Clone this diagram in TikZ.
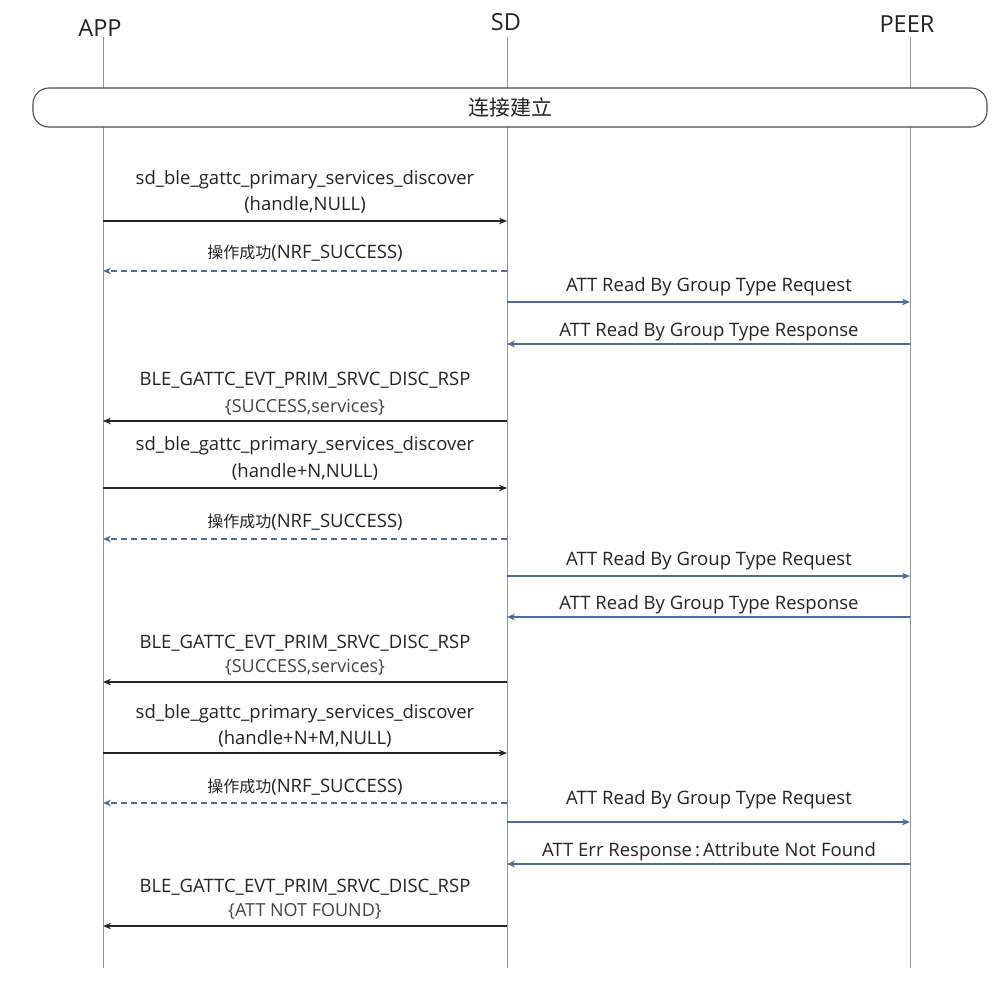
\documentclass[tikz,border=0pt]{standalone}
\usepackage{fontspec}
\setmainfont{Open Sans}
\newfontfamily\cjk{Noto Sans CJK SC}
\usetikzlibrary{arrows.meta}
\definecolor{lifegray}{RGB}{150,150,150}
\definecolor{msgblue}{RGB}{78,108,150}
\definecolor{txt}{RGB}{35,35,35}
\newcommand{\cjkt}[1]{{\cjk\fontsize{16}{19}\selectfont #1}}
\tikzset{
  life/.style={draw=lifegray, line width=0.9pt},
  blk/.style={-{Stealth[length=8pt,width=6.5pt]}, line width=1.2pt, draw=black!85},
  blu/.style={-{Stealth[length=8pt,width=6.5pt]}, line width=1.1pt, draw=msgblue},
  dsh/.style={blu, dash pattern=on 6pt off 4pt},
  lbl/.style={font=\fontsize{18.5}{22}\selectfont, text=txt, inner sep=0pt},
  lbls/.style={font=\fontsize{18}{22}\selectfont, text=txt!85, inner sep=0pt},
  head/.style={font=\fontsize{23.5}{28}\selectfont, text=txt, inner sep=0pt},
}
\begin{document}
\begin{tikzpicture}[x=1pt,y=-1pt]
\useasboundingbox (0,0) rectangle (1007,983);
\fill[white] (0,0) rectangle (1007,983);
% participants
\node[head] (app) at (100,28) {APP};
\node[head] (sd) at (506,22) {SD};
\node[head] (peer) at (907,24) {PEER};
\coordinate (appT) at (103,37);  \coordinate (appB) at (103,968);
\coordinate (sdT) at (507,37);   \coordinate (sdB) at (507,968);
\coordinate (peerT) at (910,37); \coordinate (peerB) at (910,968);
\draw[life] (appT) -- (appB);
\draw[life] (sdT) -- (sdB);
\draw[life] (peerT) -- (peerB);
% connection box
\node[draw=black!70, line width=1.1pt, fill=white, rounded corners=16pt,
      minimum width=954pt, minimum height=39pt, inner sep=0pt,
      font=\cjk\fontsize{21}{24}\selectfont, text=txt] (conn) at (510,107.5) {连接建立};
% ---------- round 1
\node[lbl] (t1a) at (305,180) {sd\_ble\_gattc\_primary\_services\_discover};
\node[lbl] (t1b) at (305,205) {(handle,NULL)};
\coordinate (a1) at (103,221); \coordinate (s1) at (507,221);
\draw[blk] (a1) -- (s1);
\node[lbl] (t2) at (305,253) {\cjkt{操作成功}(NRF\_SUCCESS)};
\coordinate (s2) at (507,271); \coordinate (a2) at (103,271);
\draw[dsh] (s2) -- (a2);
\node[lbl] (t3) at (709,287) {ATT Read By Group Type Request};
\coordinate (s3) at (507,302); \coordinate (p3) at (910,302);
\draw[blu] (s3) -- (p3);
\node[lbl] (t4) at (709,332) {ATT Read By Group Type Response};
\coordinate (p4) at (910,344); \coordinate (s4) at (507,344);
\draw[blu] (p4) -- (s4);
\node[lbl] (t5a) at (305,380) {BLE\_GATTC\_EVT\_PRIM\_SRVC\_DISC\_RSP};
\node[lbls] (t5b) at (305,407) {\{SUCCESS,services\}};
\coordinate (s5) at (507,421); \coordinate (a5) at (103,421);
\draw[blk] (s5) -- (a5);
% ---------- round 2
\node[lbl] (t6a) at (305,446) {sd\_ble\_gattc\_primary\_services\_discover};
\node[lbl] (t6b) at (305,472) {(handle+N,NULL)};
\coordinate (a6) at (103,488); \coordinate (s6) at (507,488);
\draw[blk] (a6) -- (s6);
\node[lbl] (t7) at (305,522) {\cjkt{操作成功}(NRF\_SUCCESS)};
\coordinate (s7) at (507,539); \coordinate (a7) at (103,539);
\draw[dsh] (s7) -- (a7);
\node[lbl] (t8) at (709,561) {ATT Read By Group Type Request};
\coordinate (s8) at (507,576); \coordinate (p8) at (910,576);
\draw[blu] (s8) -- (p8);
\node[lbl] (t9) at (709,605) {ATT Read By Group Type Response};
\coordinate (p9) at (910,617); \coordinate (s9) at (507,617);
\draw[blu] (p9) -- (s9);
\node[lbl] (t10a) at (305,643) {BLE\_GATTC\_EVT\_PRIM\_SRVC\_DISC\_RSP};
\node[lbls] (t10b) at (305,667) {\{SUCCESS,services\}};
\coordinate (s10) at (507,682); \coordinate (a10) at (103,682);
\draw[blk] (s10) -- (a10);
% ---------- round 3
\node[lbl] (t11a) at (305,714) {sd\_ble\_gattc\_primary\_services\_discover};
\node[lbl] (t11b) at (305,739) {(handle+N+M,NULL)};
\coordinate (a11) at (103,753); \coordinate (s11) at (507,753);
\draw[blk] (a11) -- (s11);
\node[lbl] (t12) at (305,787) {\cjkt{操作成功}(NRF\_SUCCESS)};
\coordinate (s12) at (507,803); \coordinate (a12) at (103,803);
\draw[dsh] (s12) -- (a12);
\node[lbl] (t13) at (709,800) {ATT Read By Group Type Request};
\coordinate (s13) at (507,822); \coordinate (p13) at (910,822);
\draw[blu] (s13) -- (p13);
\node[lbl] (t14) at (709,852) {ATT Err Response\,:\,Attribute Not Found};
\coordinate (p14) at (910,864); \coordinate (s14) at (507,864);
\draw[blu] (p14) -- (s14);
\node[lbl] (t15a) at (305,887) {BLE\_GATTC\_EVT\_PRIM\_SRVC\_DISC\_RSP};
\node[lbls] (t15b) at (305,911) {\{ATT NOT FOUND\}};
\coordinate (s15) at (507,926); \coordinate (a15) at (103,926);
\draw[blk] (s15) -- (a15);
\end{tikzpicture}
\end{document}
